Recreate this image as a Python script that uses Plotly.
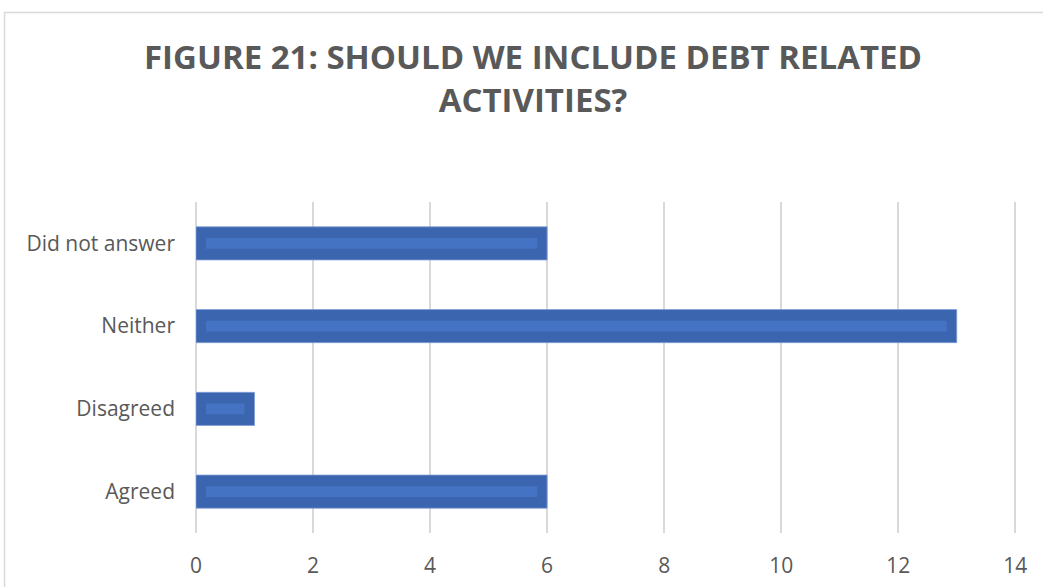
import plotly.graph_objects as go

# Survey responses
categories = ["Agreed", "Disagreed", "Neither", "Did not answer"]
counts = [6, 1, 13, 6]

tick_values = [0, 2, 4, 6, 8, 10, 12, 14]
title_text = "FIGURE 21: SHOULD WE INCLUDE DEBT RELATED<br>ACTIVITIES?"

W, H = 1043, 587
M_L, M_R, M_T, M_B = 196, 26, 202, 54

BAR_OUTER = "#3b65af"
BAR_INNER = "#4473c3"
TEXT_GRAY = "#595959"
GRID_GRAY = "#d9d9d9"
FONT = "Open Sans"

fig = go.Figure()

# Main bars
fig.add_trace(go.Bar(
    y=categories, x=counts, orientation="h", width=0.4,
    marker=dict(color=BAR_OUTER, line=dict(color="#7f9dd6", width=0.8)),
    hoverinfo="y+x", showlegend=False,
))

# Lighter inner sheen inside each bar
inset = 0.17
fig.add_trace(go.Bar(
    y=categories, x=[max(c - 2 * inset, 0) for c in counts],
    base=[inset] * len(counts), orientation="h", width=0.13,
    marker=dict(color=BAR_INNER, line=dict(width=0)),
    hoverinfo="skip", showlegend=False,
))

# Light chart frame
plot_w = W - M_L - M_R
plot_h = H - M_T - M_B
def px_x(p):
    return (p - M_L) / plot_w
def px_y(p):
    return (H - M_B - p) / plot_h

fig.add_shape(type="rect", xref="paper", yref="paper",
              x0=px_x(4.5), x1=px_x(1060), y0=px_y(600), y1=px_y(12.5),
              line=dict(color=GRID_GRAY, width=1.5), fillcolor="rgba(0,0,0,0)",
              layer="below")

fig.update_layout(
    width=W, height=H,
    margin=dict(l=M_L, r=M_R, t=M_T, b=M_B, autoexpand=False),
    paper_bgcolor="white", plot_bgcolor="white",
    barmode="overlay",
    title=dict(text=title_text, x=533 / W, xanchor="center",
               y=1 - 69 / H, yanchor="middle", yref="container",
               font=dict(family=FONT, size=33, color=TEXT_GRAY, weight="bold")),
    font=dict(family=FONT, color=TEXT_GRAY),
    xaxis=dict(range=[0, 14.03], tickvals=tick_values, showgrid=True,
               gridcolor=GRID_GRAY, gridwidth=2, zeroline=True,
               zerolinecolor=GRID_GRAY, zerolinewidth=2, automargin=False,
               showline=False, ticks="", tickfont=dict(size=21, color=TEXT_GRAY),
               ticklabelstandoff=18),
    yaxis=dict(categoryorder="array", categoryarray=categories,
               range=[-0.5, 3.5], showgrid=False, zeroline=False, automargin=False,
               showline=False, ticks="", tickfont=dict(size=21, color=TEXT_GRAY),
               ticklabelstandoff=20),
)

fig.write_html("out.html")
